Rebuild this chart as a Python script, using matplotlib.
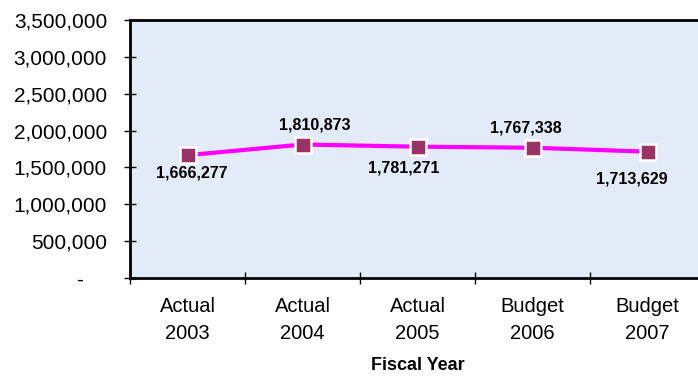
import matplotlib.pyplot as plt
from matplotlib.ticker import FixedLocator

plt.rcParams["font.family"] = ["Liberation Sans", "DejaVu Sans"]

# Fiscal year totals
categories = ["Actual\n2003", "Actual\n2004", "Actual\n2005", "Budget\n2006", "Budget\n2007"]
values = [1666277, 1810873, 1781271, 1767338, 1713629]
y_ticks = [0, 500000, 1000000, 1500000, 2000000, 2500000, 3000000, 3500000]

# label offsets (points) relative to each marker
label_offsets = [(3, -13), (9, 14), (-10, -15), (-5, 14), (-11, -20)]


def fmt(v):
    return "-    " if v == 0 else f"{v:,}"


def main():
    fig = plt.figure(figsize=(6.98, 3.77), dpi=100)
    ax = fig.add_axes([130 / 698, 99 / 377, 575 / 698, 258 / 377])
    ax.set_facecolor("#e2ebf7")

    x = range(len(values))
    ax.plot(x, values, color="#ff00ff", lw=3, zorder=2)
    ax.plot(x, values, ls="none", marker="s", ms=12, mfc="#993366",
            mec="white", mew=1.8, zorder=3)

    for i, v in enumerate(values):
        dx, dy = label_offsets[i]
        ax.annotate(f"{v:,}", (i, v), xytext=(dx, dy), textcoords="offset points",
                    ha="center", va="center", fontsize=11.5, fontweight="bold")

    ax.set_xlim(-0.5, len(values) - 0.5)
    ax.set_ylim(0, 3500000)
    ax.set_yticks(y_ticks)
    ax.set_yticklabels([fmt(v) for v in y_ticks], fontsize=15)
    ax.tick_params(axis="y", direction="inout", length=9, width=1, pad=12)

    ax.set_xticks(list(x))
    ax.set_xticklabels(categories, fontsize=14.5, linespacing=1.5)
    ax.xaxis.set_minor_locator(FixedLocator([i - 0.5 for i in range(len(values) + 1)]))
    ax.tick_params(axis="x", which="major", length=0, pad=14)
    ax.tick_params(axis="x", which="minor", direction="inout", length=9, width=1)

    ax.set_xlabel("Fiscal Year", fontsize=13, fontweight="bold")
    ax.xaxis.set_label_coords((418 - 130) / 575, -0.305)

    for side in ["left", "bottom", "top"]:
        ax.spines[side].set_linewidth(2)
        ax.spines[side].set_color("black")
    ax.spines["right"].set_visible(False)

    fig.savefig("out.png", dpi=100)


if __name__ == "__main__":
    main()
